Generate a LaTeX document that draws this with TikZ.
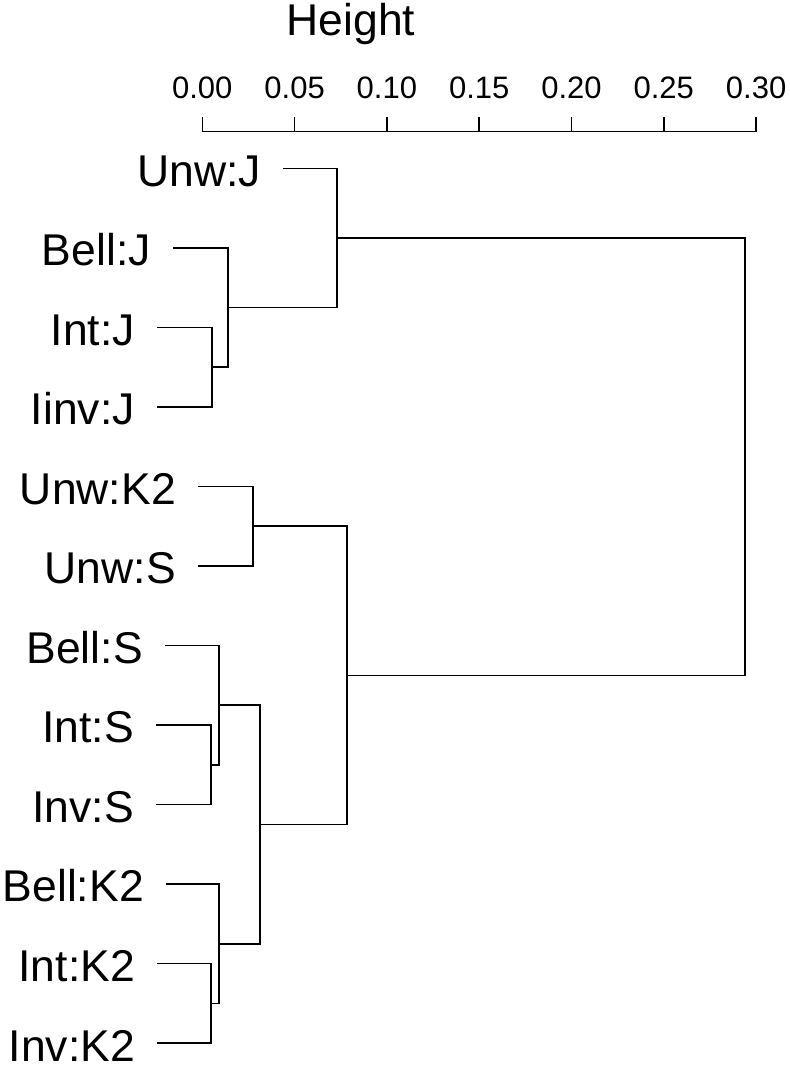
\documentclass[tikz,border=0pt]{standalone}
\usepackage{fontspec}
\setmainfont{Liberation Sans}
\begin{document}
\begin{tikzpicture}[x=1pt,y=-1pt,
  tree/.style={line width=1.5pt,black},
  lab/.style={inner sep=0pt,anchor=base east,font=\fontsize{44.5}{50}\selectfont},
  ticklab/.style={inner sep=0pt,anchor=base,font=\fontsize{31}{36}\selectfont},
  ttl/.style={inner sep=0pt,anchor=base west,font=\fontsize{44.5}{50}\selectfont}]
\useasboundingbox (0,0) rectangle (790,1066);
% title and axis
\node[ttl] (title) at (286.5,35) {Height};
\coordinate (ax0) at (202.3,131.7);
\coordinate (ax6) at (756.1,131.7);
\draw[tree] (ax0) -- (ax6);
\foreach \k/\t in {0/0.00,1/0.05,2/0.10,3/0.15,4/0.20,5/0.25,6/0.30}{
  \coordinate (tk\k) at ({202.3+92.3*\k},131.7);
  \draw[tree] (tk\k) -- ++(0,-14.7);
  \node[ticklab] (tl\k) at ({202.3+92.3*\k},98.3) {\t};
}
% leaves (start of leaf lines)
\coordinate (L1) at (283,168.3);
\coordinate (L2) at (173,247.8);
\coordinate (L3) at (157,327.3);
\coordinate (L4) at (157,406.9);
\coordinate (L5) at (198,486.4);
\coordinate (L6) at (198,566.0);
\coordinate (L7) at (165,645.5);
\coordinate (L8) at (156,725.0);
\coordinate (L9) at (156,804.6);
\coordinate (L10) at (166,884.1);
\coordinate (L11) at (157,963.7);
\coordinate (L12) at (157,1043.2);
% labels
\foreach \i/\t in {1/Unw:J,2/Bell:J,3/Int:J,4/Iinv:J,5/Unw:K2,6/Unw:S,7/Bell:S,8/Int:S,9/Inv:S,10/Bell:K2,11/Int:K2,12/Inv:K2}{
  \node[lab] (t\i) at ([xshift=-22pt,yshift=-17.8pt]L\i) {\t};
}
% merge points
\coordinate (M1) at (212,367.1);
\coordinate (M2) at (228,307.5);
\coordinate (M3) at (337,237.9);
\coordinate (M4) at (253,526.2);
\coordinate (M5) at (211,764.8);
\coordinate (M6) at (219,705.2);
\coordinate (M7) at (211,1003.5);
\coordinate (M8) at (219,943.8);
\coordinate (M9) at (260,824.5);
\coordinate (M10) at (347,675.4);
\coordinate (M11) at (745,456.6);
% branches
\draw[tree] (L3) -| (M1) |- (L4);
\draw[tree] (L2) -| (M2) |- (M1);
\draw[tree] (L1) -| (M3) |- (M2);
\draw[tree] (L5) -| (M4) |- (L6);
\draw[tree] (L8) -| (M5) |- (L9);
\draw[tree] (L7) -| (M6) |- (M5);
\draw[tree] (L11) -| (M7) |- (L12);
\draw[tree] (L10) -| (M8) |- (M7);
\draw[tree] (M6) -| (M9) |- (M8);
\draw[tree] (M4) -| (M10) |- (M9);
\draw[tree] (M3) -| (M11) |- (M10);
\end{tikzpicture}
\end{document}
